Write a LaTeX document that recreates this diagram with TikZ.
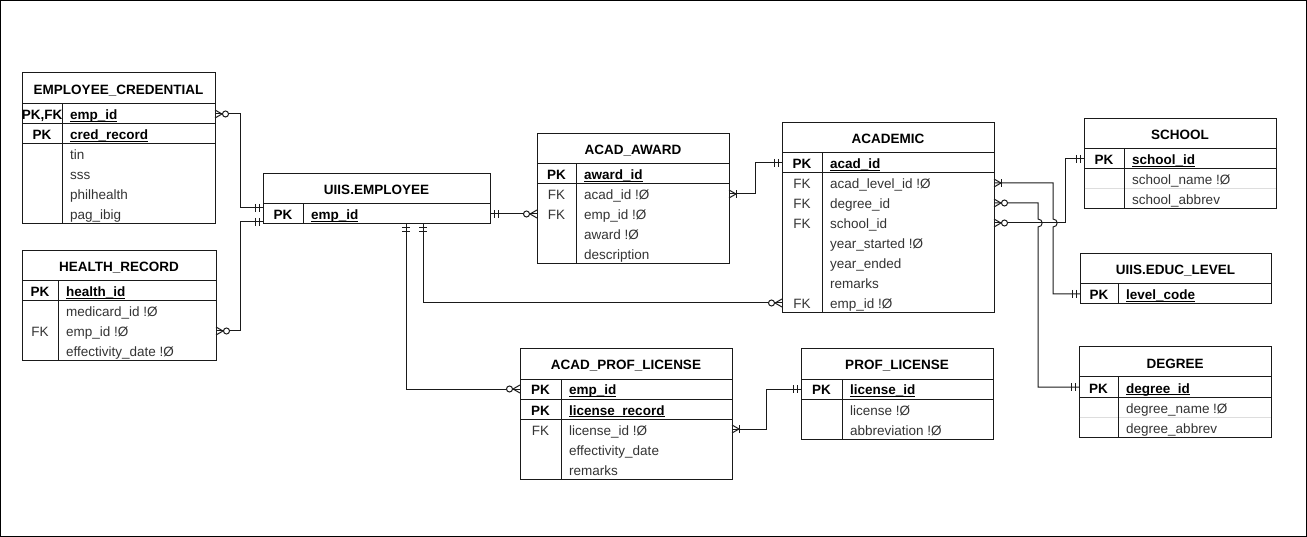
\documentclass[tikz,border=0pt]{standalone}
\usepackage{fontspec}
\setmainfont{Liberation Sans}
\usepackage{xcolor}

\definecolor{lncol}{HTML}{1A1A1A}
\definecolor{txtcol}{HTML}{333333}
\definecolor{faint}{HTML}{DDDDDD}

\newcommand{\erfont}{\fontsize{13.5}{16}\selectfont}
\newcommand{\pkul}[1]{\setbox0=\hbox{#1}\rlap{\rule[-2pt]{\wd0}{1pt}}\box0}

\tikzset{
  tbl/.style={draw=lncol, line width=1pt, inner sep=0pt, outer sep=0pt, anchor=north west},
  ttl/.style={font=\erfont\bfseries, inner sep=0pt, text height=12pt, text depth=0pt},
  keyb/.style={font=\erfont\bfseries, inner sep=0pt, text height=12pt, text depth=0pt},
  key/.style={font=\erfont, text=txtcol, inner sep=0pt, text height=12pt, text depth=0pt},
  pkfld/.style={font=\erfont\bfseries, anchor=west, inner xsep=8pt, inner ysep=0pt, text height=12pt, text depth=0pt},
  fld/.style={font=\erfont, text=txtcol, anchor=west, inner xsep=8pt, inner ysep=0pt, text height=12pt, text depth=0pt},
  sep/.style={draw=lncol, line width=1pt},
  rel/.style={draw=lncol, line width=1pt},
  pics/mone/.style={code={
    \draw[rel] (-4,-4) -- (-4,4);
    \draw[rel] (-8,-4) -- (-8,4);}},
  pics/zmany/.style={code={
    \draw[rel] (0,-4) -- (-7,0) -- (0,4);
    \draw[rel, fill=white] (-10.5,0) circle[radius=3];}},
  pics/omany/.style={code={
    \draw[rel] (0,-4) -- (-7,0) -- (0,4);
    \draw[rel] (-7,-4) -- (-7,4);}},
}

\begin{document}
\begin{tikzpicture}[x=1pt, y=-1pt]
  \useasboundingbox (0,0) rectangle (1307,537);
  \draw[line width=1pt] (0.5,0.5) rectangle (1306.5,536.5);

  % EMPLOYEE_CREDENTIAL
  \node[tbl, minimum width=193pt, minimum height=151pt] (cred) at (22,73) {};
  \node[ttl] (cred-t) at (118.5,89) {EMPLOYEE\_CREDENTIAL};
  \draw[sep] (22,104) -- (215,104);
  \draw[sep] (22,124) -- (215,124);
  \draw[sep] (22,144) -- (215,144);
  \draw[sep] (62,104) -- (62,224);
  \node[keyb] (cred-k1) at (42,114) {PK,FK};
  \node[keyb] (cred-k2) at (42,134) {PK};
  \node[pkfld] (cred-emp) at (62,114) {\pkul{emp\_id}};
  \node[pkfld] (cred-rec) at (62,134) {\pkul{cred\_record}};
  \node[fld] (cred-tin) at (62,154) {tin};
  \node[fld] (cred-sss) at (62,174) {sss};
  \node[fld] (cred-phil) at (62,194) {philhealth};
  \node[fld] (cred-pag) at (62,214) {pag\_ibig};

  % HEALTH_RECORD
  \node[tbl, minimum width=194pt, minimum height=110pt] (health) at (22,251) {};
  \node[ttl] (health-t) at (119,266) {HEALTH\_RECORD};
  \draw[sep] (22,281) -- (216,281);
  \draw[sep] (22,301) -- (216,301);
  \draw[sep] (58,281) -- (58,361);
  \node[keyb] (health-k1) at (40,291) {PK};
  \node[key] (health-k2) at (40,331) {FK};
  \node[pkfld] (health-id) at (58,291) {\pkul{health\_id}};
  \node[fld] (health-med) at (58,311) {medicard\_id !Ø};
  \node[fld] (health-emp) at (58,331) {emp\_id !Ø};
  \node[fld] (health-eff) at (58,351) {effectivity\_date !Ø};

  % UIIS.EMPLOYEE
  \node[tbl, minimum width=227pt, minimum height=50pt] (emp) at (263,174) {};
  \node[ttl] (emp-t) at (376.5,189) {UIIS.EMPLOYEE};
  \draw[sep] (263,204) -- (490,204);
  \draw[sep] (303,204) -- (303,224);
  \node[keyb] (emp-k1) at (283,214) {PK};
  \node[pkfld] (emp-id) at (303,214) {\pkul{emp\_id}};
  \coordinate (emp-in1) at (263,208);
  \coordinate (emp-in2) at (263,222);
  \coordinate (emp-out1) at (406,224);
  \coordinate (emp-out2) at (423,224);

  % ACAD_AWARD
  \node[tbl, minimum width=192pt, minimum height=130pt] (award) at (537,134) {};
  \node[ttl] (award-t) at (633,149) {ACAD\_AWARD};
  \draw[sep] (537,164) -- (729,164);
  \draw[sep] (537,184) -- (729,184);
  \draw[sep] (576,164) -- (576,264);
  \node[keyb] (award-k1) at (556.5,174) {PK};
  \node[key] (award-k2) at (556.5,194) {FK};
  \node[key] (award-k3) at (556.5,214) {FK};
  \node[pkfld] (award-id) at (576,174) {\pkul{award\_id}};
  \node[fld] (award-acad) at (576,194) {acad\_id !Ø};
  \node[fld] (award-emp) at (576,214) {emp\_id !Ø};
  \node[fld] (award-award) at (576,234) {award !Ø};
  \node[fld] (award-desc) at (576,254) {description};

  % ACADEMIC
  \node[tbl, minimum width=212pt, minimum height=190pt] (acad) at (782,123) {};
  \node[ttl] (acad-t) at (888,138) {ACADEMIC};
  \draw[sep] (782,153) -- (994,153);
  \draw[sep] (782,173) -- (994,173);
  \draw[sep] (822,153) -- (822,313);
  \node[keyb] (acad-k1) at (802,163) {PK};
  \node[key] (acad-k2) at (802,183) {FK};
  \node[key] (acad-k3) at (802,203) {FK};
  \node[key] (acad-k4) at (802,223) {FK};
  \node[key] (acad-k5) at (802,303) {FK};
  \node[pkfld] (acad-id) at (822,163) {\pkul{acad\_id}};
  \node[fld] (acad-lvl) at (822,183) {acad\_level\_id !Ø};
  \node[fld] (acad-deg) at (822,203) {degree\_id};
  \node[fld] (acad-sch) at (822,223) {school\_id};
  \node[fld] (acad-ys) at (822,243) {year\_started !Ø};
  \node[fld] (acad-ye) at (822,263) {year\_ended};
  \node[fld] (acad-rem) at (822,283) {remarks};
  \node[fld] (acad-emp) at (822,303) {emp\_id !Ø};

  % SCHOOL
  \node[tbl, minimum width=192pt, minimum height=90pt] (school) at (1084,119) {};
  \node[ttl] (school-t) at (1180,134) {SCHOOL};
  \draw[sep] (1084,149) -- (1276,149);
  \draw[sep] (1084,169) -- (1276,169);
  \draw[faint, line width=1pt] (1084.5,189) -- (1275.5,189);
  \draw[sep] (1124,149) -- (1124,209);
  \node[keyb] (school-k1) at (1104,159) {PK};
  \node[pkfld] (school-id) at (1124,159) {\pkul{school\_id}};
  \node[fld] (school-name) at (1124,179) {school\_name !Ø};
  \node[fld] (school-abbr) at (1124,199) {school\_abbrev};

  % UIIS.EDUC_LEVEL
  \node[tbl, minimum width=191pt, minimum height=50pt] (educ) at (1080,254) {};
  \node[ttl] (educ-t) at (1175.5,269) {UIIS.EDUC\_LEVEL};
  \draw[sep] (1080,284) -- (1271,284);
  \draw[sep] (1118,284) -- (1118,304);
  \node[keyb] (educ-k1) at (1099,294) {PK};
  \node[pkfld] (educ-code) at (1118,294) {\pkul{level\_code}};

  % DEGREE
  \node[tbl, minimum width=192pt, minimum height=90pt] (degree) at (1079,347) {};
  \node[ttl] (degree-t) at (1175,362) {DEGREE};
  \draw[sep] (1079,377) -- (1271,377);
  \draw[sep] (1079,397) -- (1271,397);
  \draw[faint, line width=1pt] (1079.5,417) -- (1270.5,417);
  \draw[sep] (1118,377) -- (1118,437);
  \node[keyb] (degree-k1) at (1098.5,387) {PK};
  \node[pkfld] (degree-id) at (1118,387) {\pkul{degree\_id}};
  \node[fld] (degree-name) at (1118,407) {degree\_name !Ø};
  \node[fld] (degree-abbr) at (1118,427) {degree\_abbrev};

  % ACAD_PROF_LICENSE
  \node[tbl, minimum width=212pt, minimum height=130pt] (aplic) at (520,349) {};
  \node[ttl] (aplic-t) at (626,364) {ACAD\_PROF\_LICENSE};
  \draw[sep] (520,379) -- (732,379);
  \draw[sep] (520,399) -- (732,399);
  \draw[sep] (520,419) -- (732,419);
  \draw[sep] (561,379) -- (561,479);
  \node[keyb] (aplic-k1) at (540.5,389) {PK};
  \node[keyb] (aplic-k2) at (540.5,409) {PK};
  \node[key] (aplic-k3) at (540.5,429) {FK};
  \node[pkfld] (aplic-emp) at (561,389) {\pkul{emp\_id}};
  \node[pkfld] (aplic-rec) at (561,409) {\pkul{license\_record}};
  \node[fld] (aplic-lic) at (561,429) {license\_id !Ø};
  \node[fld] (aplic-eff) at (561,449) {effectivity\_date};
  \node[fld] (aplic-rem) at (561,469) {remarks};

  % PROF_LICENSE
  \node[tbl, minimum width=192pt, minimum height=90pt] (plic) at (801,349) {};
  \node[ttl] (plic-t) at (897,364) {PROF\_LICENSE};
  \draw[sep] (801,379) -- (993,379);
  \draw[sep] (801,399) -- (993,399);
  \draw[sep] (842,379) -- (842,439);
  \node[keyb] (plic-k1) at (821.5,389) {PK};
  \node[pkfld] (plic-id) at (842,389) {\pkul{license\_id}};
  \node[fld] (plic-lic) at (842,409) {license !Ø};
  \node[fld] (plic-abbr) at (842,429) {abbreviation !Ø};

  % Draw the relations
  \draw[rel] (cred-emp -| cred.east) -| (240,208) -- (emp-in1);
  \draw[rel] (health-emp -| health.east) -| (240,222) -- (emp-in2);
  \draw[rel] (emp.east |- emp-id) -- (award.west |- award-emp);
  \draw[rel] (award.east |- award-acad) -| (755,163) -- (acad.west |- acad-id);
  \draw[rel] (emp-out2) |- (acad.west |- acad-emp);
  \draw[rel] (emp-out1) |- (aplic.west |- aplic-emp);
  \draw[rel] (aplic.east |- aplic-lic) -| (766,389) -- (plic.west |- plic-id);
  \draw[rel] (acad.east |- acad-lvl) -| (1053,219)
    .. controls (1058.5,219) and (1058.5,227) .. (1053,227) |- (educ.west |- educ-code);
  \draw[rel] (acad.east |- acad-deg) -| (1038,219)
    .. controls (1043.5,219) and (1043.5,227) .. (1038,227) |- (degree.west |- degree-id);
  \draw[rel] (acad.east |- acad-sch) -| (1065,159) -- (school.west |- school-id);

  % Relation ends
  \pic[rotate=180] at (cred-emp -| cred.east) {zmany};
  \pic at (emp-in1) {mone};
  \pic[rotate=180] at (health-emp -| health.east) {zmany};
  \pic at (emp-in2) {mone};
  \pic[rotate=180] at (emp.east |- emp-id) {mone};
  \pic at (award.west |- award-emp) {zmany};
  \pic[rotate=180] at (award.east |- award-acad) {omany};
  \pic at (acad.west |- acad-id) {mone};
  \pic[rotate=90] at (emp-out2) {mone};
  \pic at (acad.west |- acad-emp) {zmany};
  \pic[rotate=90] at (emp-out1) {mone};
  \pic at (aplic.west |- aplic-emp) {zmany};
  \pic[rotate=180] at (aplic.east |- aplic-lic) {omany};
  \pic at (plic.west |- plic-id) {mone};
  \pic[rotate=180] at (acad.east |- acad-lvl) {omany};
  \pic at (educ.west |- educ-code) {mone};
  \pic[rotate=180] at (acad.east |- acad-deg) {zmany};
  \pic at (degree.west |- degree-id) {mone};
  \pic[rotate=180] at (acad.east |- acad-sch) {zmany};
  \pic at (school.west |- school-id) {mone};
\end{tikzpicture}
\end{document}
